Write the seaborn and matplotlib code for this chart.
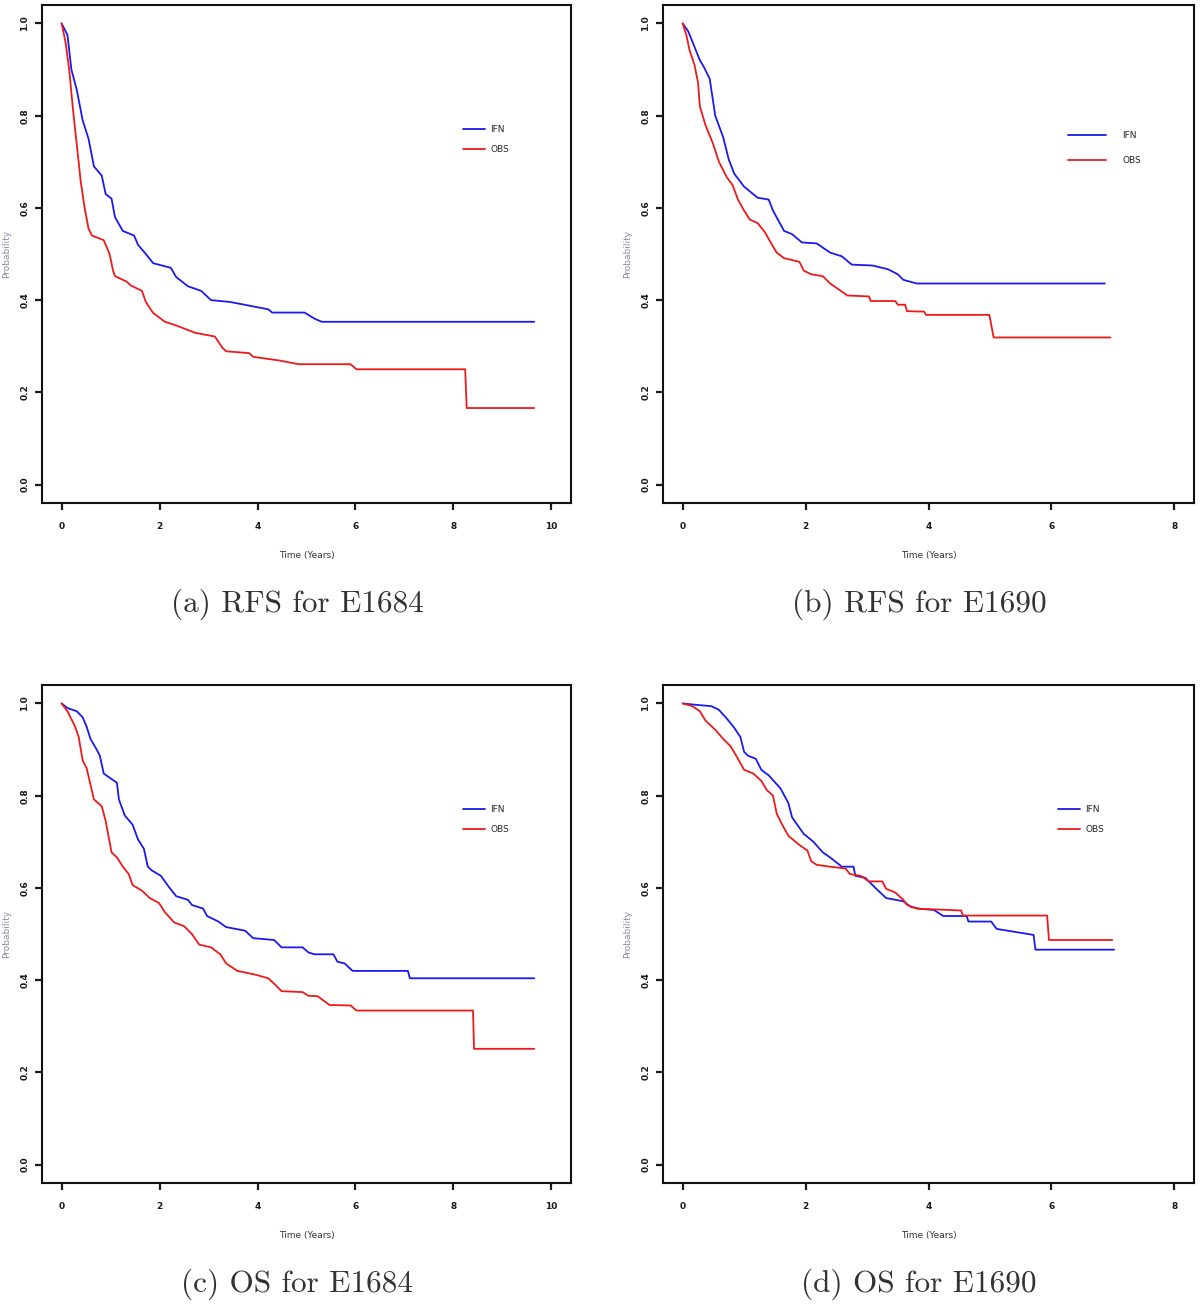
import pandas as pd
import matplotlib.pyplot as plt
import seaborn as sns

# Kaplan-Meier curves (time in years, survival probability)
rfs1684_ifn_t = [0, 0.12, 0.2, 0.31, 0.43, 0.55, 0.66, 0.82, 0.9, 1.02, 1.09, 1.25, 1.48, 1.56, 1.72, 1.87,
                 2.23, 2.34, 2.58, 2.85, 3.05, 3.44, 3.83, 4.22, 4.3, 4.96, 5.16, 5.31, 9.65]
rfs1684_ifn_s = [1.0, 0.975, 0.90, 0.856, 0.79, 0.75, 0.69, 0.67, 0.63, 0.62, 0.58, 0.55, 0.54, 0.52, 0.50, 0.48,
                 0.47, 0.45, 0.43, 0.42, 0.40, 0.396, 0.388, 0.38, 0.373, 0.373, 0.36, 0.353, 0.353]
rfs1684_obs_t = [0, 0.08, 0.16, 0.23, 0.31, 0.39, 0.47, 0.55, 0.62, 0.86, 0.98, 1.05, 1.09, 1.33, 1.41, 1.64,
                 1.72, 1.87, 2.11, 2.34, 2.73, 3.13, 3.28, 3.36, 3.83, 3.91, 4.45, 4.84, 5.9, 6.02, 8.24, 8.27, 9.65]
rfs1684_obs_s = [1.0, 0.96, 0.895, 0.816, 0.737, 0.658, 0.60, 0.555, 0.54, 0.53, 0.50, 0.464, 0.452, 0.44, 0.432, 0.42,
                 0.396, 0.372, 0.353, 0.345, 0.329, 0.321, 0.297, 0.289, 0.285, 0.277, 0.269, 0.261, 0.261, 0.25, 0.25, 0.166, 0.166]

rfs1690_ifn_t = [0, 0.09, 0.19, 0.28, 0.34, 0.44, 0.53, 0.66, 0.75, 0.84, 1.0, 1.22, 1.40, 1.47, 1.65, 1.78, 1.94,
                 2.18, 2.40, 2.59, 2.75, 3.09, 3.34, 3.5, 3.59, 3.81, 6.87]
rfs1690_ifn_s = [1.0, 0.983, 0.95, 0.92, 0.907, 0.88, 0.80, 0.753, 0.705, 0.674, 0.646, 0.622, 0.618, 0.594, 0.55, 0.543, 0.525,
                 0.523, 0.503, 0.495, 0.477, 0.475, 0.467, 0.456, 0.444, 0.436, 0.436]
rfs1690_obs_t = [0, 0.06, 0.11, 0.19, 0.25, 0.28, 0.37, 0.50, 0.59, 0.72, 0.81, 0.90, 1.0, 1.09, 1.22, 1.34, 1.44,
                 1.53, 1.65, 1.9, 1.97, 2.09, 2.28, 2.40, 2.53, 2.68, 3.03, 3.06, 3.46, 3.5, 3.62, 3.65, 3.93, 3.96,
                 4.99, 5.06, 6.96]
rfs1690_obs_s = [1.0, 0.975, 0.943, 0.911, 0.872, 0.82, 0.78, 0.737, 0.70, 0.666, 0.65, 0.618, 0.594, 0.575, 0.567, 0.547, 0.523,
                 0.503, 0.491, 0.483, 0.464, 0.456, 0.452, 0.436, 0.424, 0.41, 0.408, 0.398, 0.398, 0.39, 0.39, 0.376, 0.375, 0.368,
                 0.368, 0.319, 0.319]

os1684_ifn_t = [0, 0.12, 0.31, 0.43, 0.51, 0.59, 0.7, 0.78, 0.86, 1.02, 1.13, 1.17, 1.29, 1.45, 1.56, 1.68, 1.76,
                1.84, 2.03, 2.19, 2.34, 2.58, 2.66, 2.89, 2.97, 3.20, 3.36, 3.75, 3.91, 4.34, 4.49, 4.92, 5.04, 5.16,
                5.55, 5.63, 5.78, 5.94, 7.07, 7.11, 9.65]
os1684_ifn_s = [1.0, 0.99, 0.983, 0.97, 0.95, 0.923, 0.903, 0.887, 0.848, 0.836, 0.828, 0.792, 0.757, 0.737, 0.705, 0.685, 0.646,
                0.638, 0.626, 0.602, 0.582, 0.574, 0.563, 0.555, 0.539, 0.527, 0.515, 0.507, 0.491, 0.487, 0.471, 0.471, 0.46, 0.456,
                0.456, 0.44, 0.436, 0.42, 0.42, 0.404, 0.404]
os1684_obs_t = [0, 0.12, 0.27, 0.35, 0.43, 0.51, 0.59, 0.66, 0.82, 0.9, 1.02, 1.13, 1.25, 1.37, 1.45, 1.64, 1.80,
                1.99, 2.11, 2.30, 2.5, 2.66, 2.81, 3.05, 3.24, 3.36, 3.59, 3.95, 4.22, 4.38, 4.49, 4.92, 5.04, 5.23,
                5.47, 5.9, 6.02, 8.4, 8.42, 9.65]
os1684_obs_s = [1.0, 0.983, 0.951, 0.927, 0.876, 0.86, 0.824, 0.792, 0.777, 0.745, 0.677, 0.666, 0.646, 0.63, 0.606, 0.594, 0.578,
                0.567, 0.547, 0.525, 0.517, 0.50, 0.477, 0.471, 0.456, 0.436, 0.42, 0.412, 0.404, 0.388, 0.376, 0.374, 0.366, 0.365,
                0.346, 0.345, 0.334, 0.334, 0.251, 0.251]

os1690_ifn_t = [0, 0.22, 0.47, 0.59, 0.72, 0.84, 0.94, 1.0, 1.06, 1.19, 1.28, 1.40, 1.59, 1.72, 1.78, 1.97, 2.12,
                2.28, 2.40, 2.59, 2.78, 2.81, 2.97, 3.15, 3.31, 3.59, 3.71, 3.84, 4.09, 4.24, 4.62, 4.65, 5.02, 5.11,
                5.71, 5.74, 7.02]
os1690_ifn_s = [1.0, 0.997, 0.994, 0.986, 0.967, 0.947, 0.927, 0.895, 0.887, 0.88, 0.856, 0.844, 0.816, 0.784, 0.753, 0.717, 0.701,
                0.677, 0.666, 0.646, 0.646, 0.626, 0.622, 0.598, 0.578, 0.571, 0.559, 0.555, 0.552, 0.539, 0.539, 0.527, 0.527, 0.511,
                0.498, 0.466, 0.466]
os1690_obs_t = [0, 0.16, 0.28, 0.37, 0.53, 0.66, 0.78, 0.87, 1.0, 1.15, 1.28, 1.37, 1.47, 1.53, 1.62, 1.72, 1.90,
                2.03, 2.09, 2.18, 2.40, 2.65, 2.72, 2.90, 3.03, 3.25, 3.31, 3.46, 3.59, 3.65, 3.81, 4.53, 4.56, 5.93,
                5.96, 6.99]
os1690_obs_s = [1.0, 0.994, 0.983, 0.963, 0.943, 0.923, 0.907, 0.887, 0.856, 0.848, 0.832, 0.812, 0.80, 0.761, 0.737, 0.713, 0.693,
                0.681, 0.658, 0.65, 0.646, 0.642, 0.63, 0.626, 0.614, 0.614, 0.598, 0.59, 0.574, 0.563, 0.555, 0.551, 0.54, 0.54,
                0.487, 0.487]

arms = ["IFN", "OBS"]
captions = ["(a) RFS for E1684", "(b) RFS for E1690", "(c) OS for E1684", "(d) OS for E1690"]
y_ticks = [0.0, 0.2, 0.4, 0.6, 0.8, 1.0]


def km_frame(ifn_t, ifn_s, obs_t, obs_s):
    a = pd.DataFrame({"time": ifn_t, "surv": ifn_s, "arm": "IFN"})
    b = pd.DataFrame({"time": obs_t, "surv": obs_s, "arm": "OBS"})
    return pd.concat([a, b], ignore_index=True)


panels = [
    km_frame(rfs1684_ifn_t, rfs1684_ifn_s, rfs1684_obs_t, rfs1684_obs_s),
    km_frame(rfs1690_ifn_t, rfs1690_ifn_s, rfs1690_obs_t, rfs1690_obs_s),
    km_frame(os1684_ifn_t, os1684_ifn_s, os1684_obs_t, os1684_obs_s),
    km_frame(os1690_ifn_t, os1690_ifn_s, os1690_obs_t, os1690_obs_s),
]
x_max = [10, 8, 10, 8]

sns.set_theme(style="ticks")
plt.rcParams['font.family'] = ['DejaVu Sans']

fig = plt.figure(figsize=(12, 13.09), dpi=100)

# axes boxes in pixels: left, top, right, bottom
boxes = [(42, 5, 571, 503), (663, 5, 1194, 503), (42, 685, 571, 1183), (663, 685, 1194, 1183)]
# legend placement (axes fraction) and geometry
leg_pos = [(0.796, 0.759), (0.763, 0.747), (0.796, 0.759), (0.744, 0.759)]
leg_geom = [(2.4, 0.6, 1.2), (4.2, 1.8, 1.8), (2.4, 0.6, 1.2), (2.4, 0.6, 1.2)]
cap_pos = [(297, 604), (919, 604), (297, 1284), (919, 1284)]

W, H = 1200, 1309
palette = {"IFN": "#1a1aee", "OBS": "#ee1a1a"}

for i, df in enumerate(panels):
    l, t, r, b = boxes[i]
    ax = fig.add_axes([l / W, 1 - b / H, (r - l) / W, (b - t) / H])
    sns.lineplot(data=df, x="time", y="surv", hue="arm", hue_order=arms, palette=palette,
                 estimator=None, sort=False, lw=1.3, ax=ax)

    xm = x_max[i]
    ax.set_xlim(-0.04 * xm, 1.04 * xm)
    ax.set_ylim(-0.04, 1.04)
    ax.set_xticks(range(0, xm + 1, 2))
    ax.set_yticks(y_ticks)
    ax.set_yticklabels([f"{v:.1f}" for v in y_ticks], rotation=90, va="center")
    ax.tick_params(axis="both", length=5, width=1.6, labelsize=6.5, colors="#1a1a1a")
    ax.tick_params(axis="x", pad=9)
    ax.tick_params(axis="y", pad=4)
    for lab in ax.get_xticklabels() + ax.get_yticklabels():
        lab.set_fontweight("bold")
    for s in ax.spines.values():
        s.set_color("#111111")
        s.set_linewidth(1.5)

    ax.set_xlabel("Time (Years)", fontsize=6.5, color="#333333", labelpad=14)
    ax.set_ylabel("Probability", fontsize=6.5, color="#8a8aa0", labelpad=7)

    hl, htp, ls = leg_geom[i]
    handles, labels = ax.get_legend_handles_labels()
    ax.legend(handles=handles, labels=labels, loc="upper left", bbox_to_anchor=leg_pos[i],
              frameon=False, fontsize=6.5, handlelength=hl, handletextpad=htp, labelspacing=ls,
              borderaxespad=0, borderpad=0)

    cx, cy = cap_pos[i]
    fig.text(cx / W, 1 - cy / H, captions[i], ha="center", va="center",
             family="cmr10", fontsize=22.5, color="#333333")

fig.savefig("out.png", dpi=100)
